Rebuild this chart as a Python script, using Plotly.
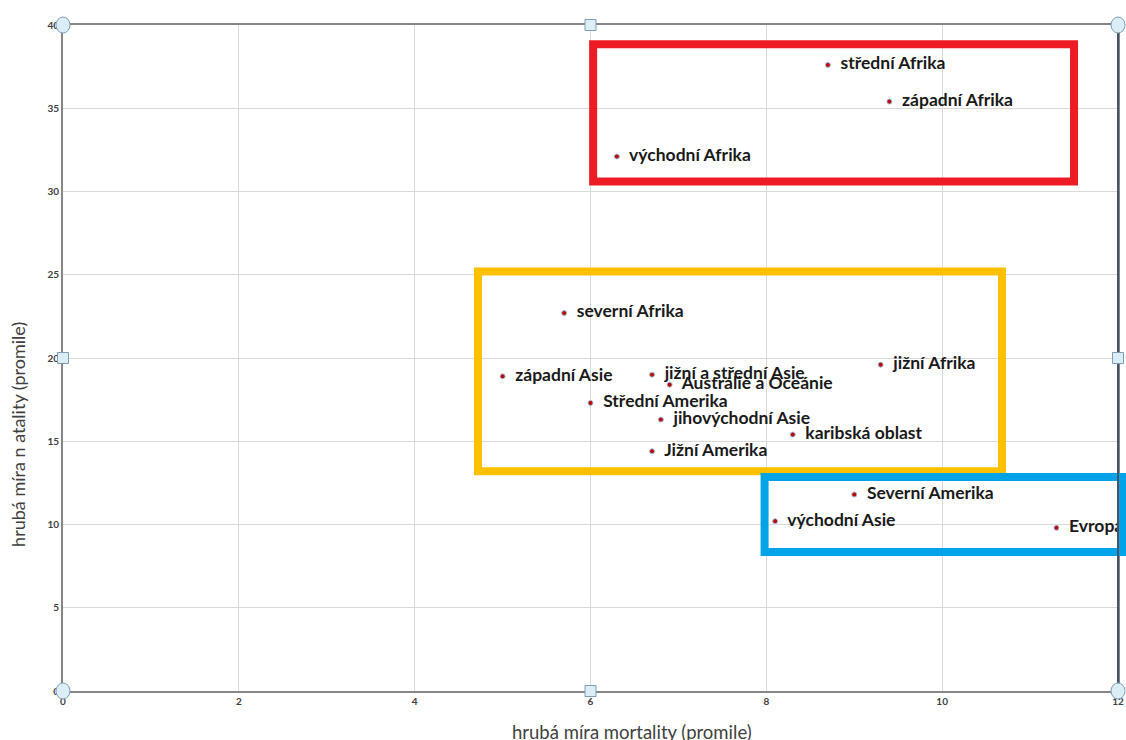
import plotly.graph_objects as go

regions = ["střední Afrika", "západní Afrika", "východní Afrika", "severní Afrika",
           "západní Asie", "jižní a střední Asie", "Austrálie a Oceánie", "Střední Amerika",
           "jihovýchodní Asie", "karibská oblast", "Jižní Amerika", "jižní Afrika",
           "Severní Amerika", "východní Asie", "Evropa"]
mortality = [8.7, 9.4, 6.3, 5.7, 5.0, 6.7, 6.9, 6.0, 6.8, 8.3, 6.7, 9.3, 9.0, 8.1, 11.3]
natality = [37.6, 35.4, 32.1, 22.7, 18.9, 19.0, 18.4, 17.3, 16.3, 15.4, 14.4, 19.6, 11.8, 10.2, 9.8]

x_ticks = [0, 2, 4, 6, 8, 10, 12]
y_ticks = [0, 5, 10, 15, 20, 25, 30, 35, 40]
X_MAX, Y_MAX = 12, 40

# group frames (x0, x1, y0, y1 in data units, colour)
frames = [
    (6.03, 11.5, 30.6, 38.85, "#ed1c24"),
    (4.72, 10.68, 13.2, 25.2, "#ffc000"),
    (7.98, 12.06, 8.35, 12.85, "#00a2e8"),
]

fig = go.Figure()
fig.add_trace(go.Scatter(
    x=mortality, y=natality, mode="markers+text",
    text=["\u00a0\u00a0" + r for r in regions], textposition="middle right",
    textfont=dict(family="Lato", size=17.5, color="#1a1a1a", weight="bold"),
    marker=dict(size=5, color="#c00000", line=dict(color="#9dc3e6", width=1)),
    cliponaxis=False, showlegend=False, hoverinfo="skip",
))

shapes = []
for x0, x1, y0, y1, c in frames:
    # paper coordinates so the frame may run past the plot edge as in the original
    shapes.append(dict(type="rect", xref="paper", yref="paper",
                       x0=x0 / X_MAX, x1=x1 / X_MAX, y0=y0 / Y_MAX, y1=y1 / Y_MAX,
                       line=dict(color=c, width=8), fillcolor="rgba(0,0,0,0)", layer="above"))

# right border of plot area
shapes.append(dict(type="line", xref="paper", yref="paper", x0=1, x1=1, y0=0, y1=1,
                   line=dict(color="#44546a", width=2)))

# selection handles
for hx, hy, kind in [(0, 0, "circle"), (1, 0, "circle"), (0, 1, "circle"), (1, 1, "circle"),
                     (0.5, 0, "rect"), (0.5, 1, "rect"), (0, 0.5, "rect"), (1, 0.5, "rect")]:
    if kind == "circle":
        w, h = 14, 16
    else:
        w, h = 11, 11
    shapes.append(dict(type=kind, xref="paper", yref="paper", xsizemode="pixel", ysizemode="pixel",
                       xanchor=hx, yanchor=hy, x0=-w / 2, x1=w / 2, y0=-h / 2, y1=h / 2,
                       fillcolor="#dbeef7", line=dict(color="#7f9db9", width=1), layer="above"))

tickfont = dict(family="Lato", size=10, color="#404040", weight="bold")
fig.update_layout(
    width=1126, height=740,
    margin=dict(l=63, r=8, t=25, b=49),
    paper_bgcolor="white", plot_bgcolor="white",
    shapes=shapes,
    xaxis=dict(range=[0, X_MAX], tickvals=x_ticks, ticktext=[str(v) for v in x_ticks],
               showgrid=True, gridcolor="#d9d9d9", gridwidth=1, zeroline=False,
               showline=True, linecolor="#868686", linewidth=2, mirror=True,
               ticks="", tickfont=tickfont, automargin=False),
    yaxis=dict(range=[0, Y_MAX], tickvals=y_ticks, ticktext=[str(v) for v in y_ticks],
               showgrid=True, gridcolor="#d9d9d9", gridwidth=1, zeroline=False,
               showline=True, linecolor="#868686", linewidth=2, mirror=True,
               ticks="", tickfont=tickfont, automargin=False),
    annotations=[
        dict(text="hrubá míra mortality (promile)", xref="paper", yref="paper",
             x=0.539, y=-0.0616, xanchor="center", yanchor="middle", showarrow=False,
             font=dict(family="Lato", size=18.5, color="#404040")),
        dict(text="hrubá míra n atality (promile)", xref="paper", yref="paper",
             x=-0.0427, y=0.386, xanchor="center", yanchor="middle", showarrow=False,
             textangle=-90, font=dict(family="Lato", size=18, color="#404040")),
    ],
)

fig.write_html(
    "out.html",
    config={"displayModeBar": False},
    post_script="document.body.style.margin='0';document.body.style.overflow='hidden';",
)
